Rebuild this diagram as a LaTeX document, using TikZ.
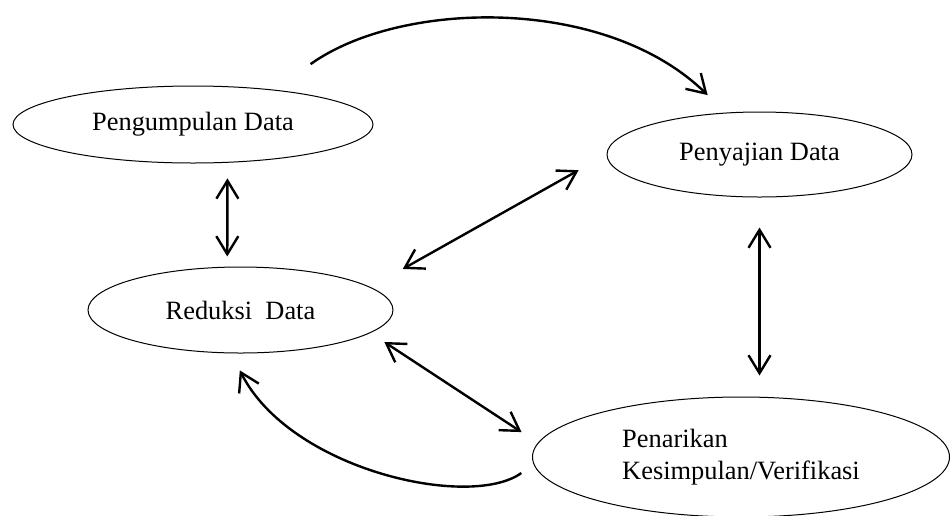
\documentclass[tikz,border=0pt]{standalone}
\usepackage{fontspec}
\setmainfont{Liberation Serif}
\usetikzlibrary{shapes.geometric,arrows.meta}
\begin{document}
\begin{tikzpicture}[x=0.5pt,y=-0.5pt,
    every node/.style={font=\fontsize{13.2}{16}\selectfont},
    bubble/.style={draw,ellipse,line width=0.5pt,inner sep=0pt},
    oneway/.style={line width=1.2pt,-{Straight Barb[length=9pt,width=11pt]}},
    twoway/.style={line width=1.2pt,{Straight Barb[length=9pt,width=11pt]}-{Straight Barb[length=9pt,width=11pt]}}]
      \useasboundingbox (0,0) rectangle (952,515);
      \draw
        (193,124.5) node[bubble,minimum width=180pt,minimum height=38.5pt] (pg){Pengumpulan Data}
        (759.5,154.5) node[bubble,minimum width=152.5pt,minimum height=42.5pt] (pj){Penyajian Data}
        (240.5,310) node[bubble,minimum width=152.5pt,minimum height=43pt] (rd){Reduksi\ \ Data}
        (741,457) node[bubble,minimum width=208.5pt,minimum height=60pt,align=left] (pk){Penarikan\\Kesimpulan/Verifikasi};
      \begin{scope}[twoway]
        \draw[shorten <=7.8pt,shorten >=5.1pt] (pg.-48) to (rd.107.5);
        \draw[shorten <=18.5pt,shorten >=16pt] (rd.10) to (pj.180);
        \draw[shorten <=15pt,shorten >=10.5pt] (pj.south) to (pj.south |- pk.north);
        \draw[shorten <=8.25pt,shorten >=9.75pt] (rd.-10) to (pk.176);
      \end{scope}
      \draw[oneway,shorten <=22pt,shorten >=12.5pt] (pg.23) .. controls (400,0) and (605,-5) .. (pj.129);
      \draw[oneway,shorten <=7.5pt,shorten >=9.5pt] (pk.182) .. controls (470,510) and (290,470) .. (rd.258);
    \end{tikzpicture}
\end{document}
